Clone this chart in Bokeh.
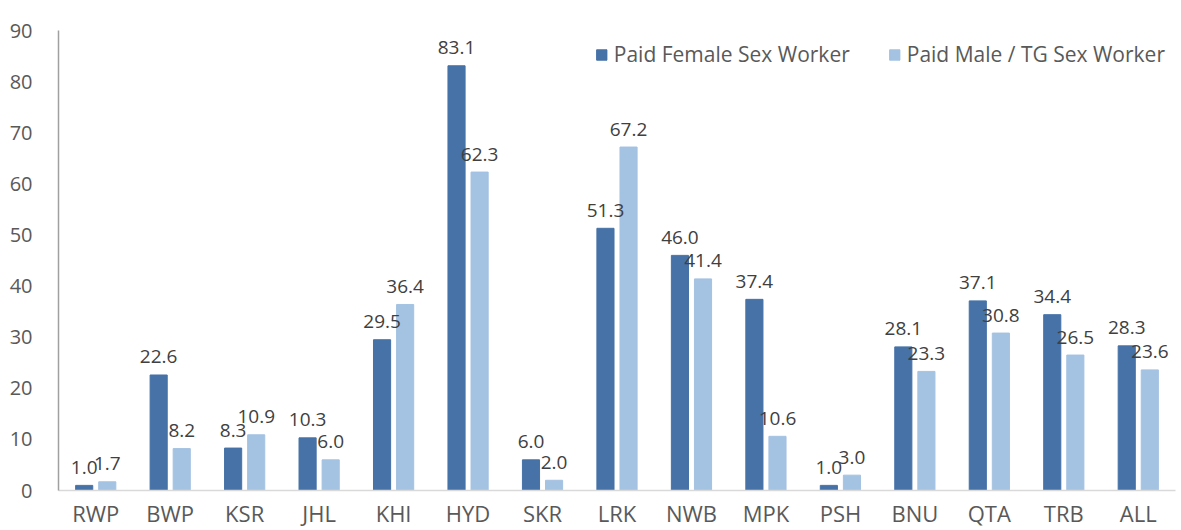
from bokeh.plotting import figure
from bokeh.models import ColumnDataSource, FactorRange, Range1d, Legend, LegendItem, FixedTicker
from bokeh.transform import dodge
from bokeh.core.properties import value
from bokeh.embed import file_html
from bokeh.resources import INLINE

categories = ["RWP", "BWP", "KSR", "JHL", "KHI", "HYD", "SKR", "LRK", "NWB", "MPK", "PSH", "BNU", "QTA", "TRB", "ALL"]
female = [1.0, 22.6, 8.3, 10.3, 29.5, 83.1, 6.0, 51.3, 46.0, 37.4, 1.0, 28.1, 37.1, 34.4, 28.3]
male_tg = [1.7, 8.2, 10.9, 6.0, 36.4, 62.3, 2.0, 67.2, 41.4, 10.6, 3.0, 23.3, 30.8, 26.5, 23.6]
series_names = ["Paid Female Sex Worker", "Paid Male / TG Sex Worker"]
y_ticks = [0, 10, 20, 30, 40, 50, 60, 70, 80, 90]

DARK = "#4672A7"
LIGHT = "#A4C2E2"
FONT = "Open Sans"

src = ColumnDataSource(dict(
    cat=categories,
    f=female,
    m=male_tg,
    f_lab=["%.1f" % v for v in female],
    m_lab=["%.1f" % v for v in male_tg],
))

p = figure(
    x_range=FactorRange(factors=categories, range_padding=0),
    y_range=Range1d(0, 90),
    width=1181, height=530,
    output_backend="svg", toolbar_location=None,
    min_border_left=58, min_border_right=6, min_border_top=30, min_border_bottom=40,
)
p.outline_line_color = None
p.grid.grid_line_color = None
p.background_fill_color = "white"
p.border_fill_color = "white"

r1 = p.vbar(x=dodge("cat", -0.155, range=p.x_range), top="f", width=0.23, source=src,
            fill_color=DARK, line_color=DARK)
r2 = p.vbar(x=dodge("cat", 0.155, range=p.x_range), top="m", width=0.23, source=src,
            fill_color=LIGHT, line_color=LIGHT)

for col, lab, off in (("f", "f_lab", -0.155), ("m", "m_lab", 0.155)):
    p.text(x=dodge("cat", off, range=p.x_range), y=col, text=lab, source=src,
           text_align="center", text_baseline="alphabetic", y_offset=-18,
           text_font=value(FONT), text_font_size="19px", text_color="#404040")

# y axis
ya = p.yaxis[0]
ya.ticker = FixedTicker(ticks=y_ticks)
ya.major_tick_line_color = None
ya.minor_tick_line_color = None
ya.axis_line_color = "#A0A0A0"
ya.axis_line_width = 1.5
ya.major_label_text_font = FONT
ya.major_label_text_font_size = "20px"
ya.major_label_text_color = "#595959"
ya.major_label_standoff = 20

# x axis
xa = p.xaxis[0]
xa.major_tick_line_color = None
xa.minor_tick_line_color = None
xa.axis_line_color = "#D9D9D9"
xa.axis_line_width = 1.5
xa.major_label_text_font = FONT
xa.major_label_text_font_size = "22px"
xa.major_label_text_line_height = 0.9
xa.major_label_text_color = "#595959"
xa.major_label_standoff = 1

legend = Legend(
    items=[LegendItem(label=series_names[0], renderers=[r1]),
           LegendItem(label=series_names[1], renderers=[r2])],
    orientation="horizontal", location="top_right",
    glyph_width=13, glyph_height=13, label_standoff=6, spacing=38,
    label_height=28,
    label_text_font=FONT, label_text_font_size="21px", label_text_color="#595959",
    border_line_color=None, background_fill_alpha=0,
    margin=10, padding=19,
)
p.add_layout(legend)

open("out.html", "w").write(file_html(p, INLINE))
